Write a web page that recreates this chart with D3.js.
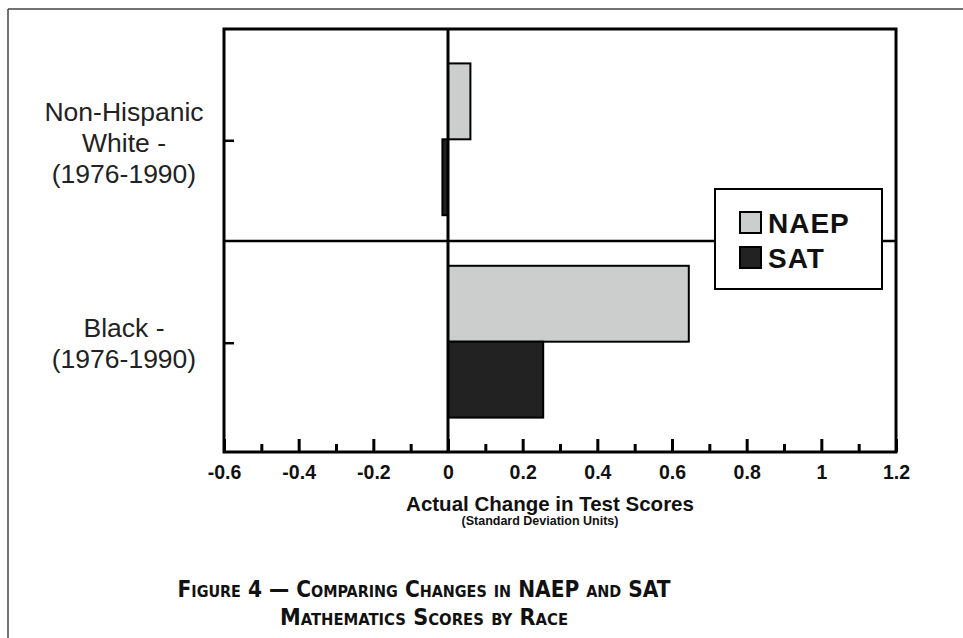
<!DOCTYPE html>
<html>
<head>
<meta charset="utf-8">
<script src="https://cdn.jsdelivr.net/npm/d3@7"></script>
<style>
  html, body { margin: 0; padding: 0; background: #fff; }
  svg { display: block; }
</style>
</head>
<body>
<script>
// ---- data ----
const categories = ["Non-Hispanic White - (1976-1990)", "Black - (1976-1990)"];
const categoryLines = [["Non-Hispanic", "White -", "(1976-1990)"], ["Black -", "(1976-1990)"]];
const seriesNames = ["NAEP", "SAT"];
const naepValues = [0.06, 0.645];
const satValues = [-0.015, 0.255];
const xTickValues = [-0.6, -0.4, -0.2, 0, 0.2, 0.4, 0.6, 0.8, 1, 1.2];
const xTickLabels = ["-0.6", "-0.4", "-0.2", "0", "0.2", "0.4", "0.6", "0.8", "1", "1.2"];
const xMinorTicks = [-0.5, -0.3, -0.1, 0.1, 0.3, 0.5, 0.7, 0.9, 1.1];
const xTitle = "Actual Change in Test Scores";
const xSubtitle = "(Standard Deviation Units)";
const captionLines = ["Figure 4 — Comparing Changes in NAEP and SAT", "Mathematics Scores by Race"];

const W = 963, H = 638;
const svg = d3.select("body").append("svg").attr("width", W).attr("height", H);

// outer frame (top and left rules)
svg.append("line").attr("x1", 8).attr("y1", 9).attr("x2", W).attr("y2", 9)
  .attr("stroke", "#444").attr("stroke-width", 1.5);
svg.append("line").attr("x1", 8).attr("y1", 9).attr("x2", 8).attr("y2", H)
  .attr("stroke", "#444").attr("stroke-width", 1.5);

const plot = { left: 224, right: 896, top: 29, bottom: 452 };

const x = d3.scaleLinear().domain([-0.6, 1.2]).range([plot.left, plot.right]);
const y = d3.scaleBand().domain(categories).range([plot.top, plot.bottom])
  .paddingInner(0.25).paddingOuter(0.17);
const ySub = d3.scaleBand().domain(seriesNames).range([0, y.bandwidth()]);
const color = d3.scaleOrdinal().domain(seriesNames).range(["#cccecd", "#222222"]);

const rows = categories.map((c, i) => ({ cat: c, vals: [
  { s: "NAEP", v: naepValues[i] }, { s: "SAT", v: satValues[i] } ] }));

// divider between categories
const midY = (plot.top + plot.bottom) / 2 + 0.5;
svg.append("line").attr("x1", plot.left).attr("x2", plot.right)
  .attr("y1", midY).attr("y2", midY).attr("stroke", "#000").attr("stroke-width", 2.5);

// bars
const g = svg.append("g");
rows.forEach(r => {
  g.selectAll(null).data(r.vals).enter().append("rect")
    .attr("x", d => x(Math.min(0, d.v)))
    .attr("width", d => Math.abs(x(d.v) - x(0)))
    .attr("y", d => y(r.cat) + ySub(d.s))
    .attr("height", ySub.bandwidth())
    .attr("fill", d => color(d.s))
    .attr("stroke", "#000").attr("stroke-width", 2);
});

// zero line
svg.append("line").attr("x1", x(0)).attr("x2", x(0))
  .attr("y1", plot.top).attr("y2", plot.bottom).attr("stroke", "#000").attr("stroke-width", 3);

// x axis major ticks (inward)
const xAxis = d3.axisBottom(x).tickValues(xTickValues).tickSize(-13).tickPadding(13)
  .tickFormat((d, i) => xTickLabels[i]);
const xg = svg.append("g").attr("transform", `translate(0,${plot.bottom})`).call(xAxis);
xg.select(".domain").remove();
xg.selectAll(".tick line").attr("stroke", "#000").attr("stroke-width", 3);
xg.selectAll(".tick text").attr("font-family", "Liberation Sans, Arial, sans-serif")
  .attr("font-weight", "bold").attr("font-size", 19.5).attr("fill", "#111");
// minor ticks
const xMinor = d3.axisBottom(x).tickValues(xMinorTicks).tickSize(-8).tickFormat("");
const xmg = svg.append("g").attr("transform", `translate(0,${plot.bottom})`).call(xMinor);
xmg.select(".domain").remove();
xmg.selectAll(".tick line").attr("stroke", "#000").attr("stroke-width", 3);

// y axis ticks (inward)
const yAxis = d3.axisLeft(y).tickSize(-10).tickFormat("");
const yg = svg.append("g").attr("transform", `translate(${plot.left},1.5)`).call(yAxis);
yg.select(".domain").remove();
yg.selectAll(".tick line").attr("stroke", "#000").attr("stroke-width", 2.5);

// plot frame
svg.append("rect").attr("x", plot.left).attr("y", plot.top)
  .attr("width", plot.right - plot.left).attr("height", plot.bottom - plot.top)
  .attr("fill", "none").attr("stroke", "#000").attr("stroke-width", 3);

// category labels
const labelBaselines = [[121, 152, 183], [337, 368]];
categoryLines.forEach((lines, i) => {
  lines.forEach((t, j) => {
    svg.append("text").attr("x", 124).attr("y", labelBaselines[i][j])
      .attr("text-anchor", "middle")
      .attr("font-family", "Liberation Sans, Arial, sans-serif")
      .attr("font-size", 26.5).attr("fill", "#222").text(t);
  });
});

// axis titles
svg.append("text").attr("x", 550).attr("y", 511).attr("text-anchor", "middle")
  .attr("font-family", "Liberation Sans, Arial, sans-serif").attr("font-weight", "bold")
  .attr("font-size", 20.5).attr("fill", "#111").text(xTitle);
svg.append("text").attr("x", 540).attr("y", 524.5).attr("text-anchor", "middle")
  .attr("font-family", "Liberation Sans, Arial, sans-serif").attr("font-weight", "bold")
  .attr("font-size", 12.5).attr("fill", "#111").text(xSubtitle);

// legend
const lg = svg.append("g");
lg.append("rect").attr("x", 715).attr("y", 189).attr("width", 167).attr("height", 100)
  .attr("fill", "#fff").attr("stroke", "#000").attr("stroke-width", 2);
seriesNames.forEach((s, i) => {
  lg.append("rect").attr("x", 740).attr("y", 212 + i * 35).attr("width", 21).attr("height", 21)
    .attr("fill", color(s)).attr("stroke", "#000").attr("stroke-width", 2);
  lg.append("text").attr("x", 768).attr("y", 233 + i * 35)
    .attr("font-family", "Liberation Sans, Arial, sans-serif").attr("font-weight", "bold")
    .attr("font-size", 28).attr("letter-spacing", 1).attr("fill", "#111").text(s);
});

// caption
const capBase = [597, 625];
const capWidths = [493, 288];
captionLines.forEach((t, i) => {
  svg.append("text").attr("x", 424).attr("y", capBase[i]).attr("text-anchor", "middle")
    .attr("font-family", "DejaVu Sans Condensed, DejaVu Sans, sans-serif").attr("font-weight", "bold")
    .attr("font-variant", "small-caps").attr("font-size", 22.5).attr("fill", "#111")
    .attr("textLength", capWidths[i]).attr("lengthAdjust", "spacingAndGlyphs")
    .text(t);
});
</script>
</body>
</html>
